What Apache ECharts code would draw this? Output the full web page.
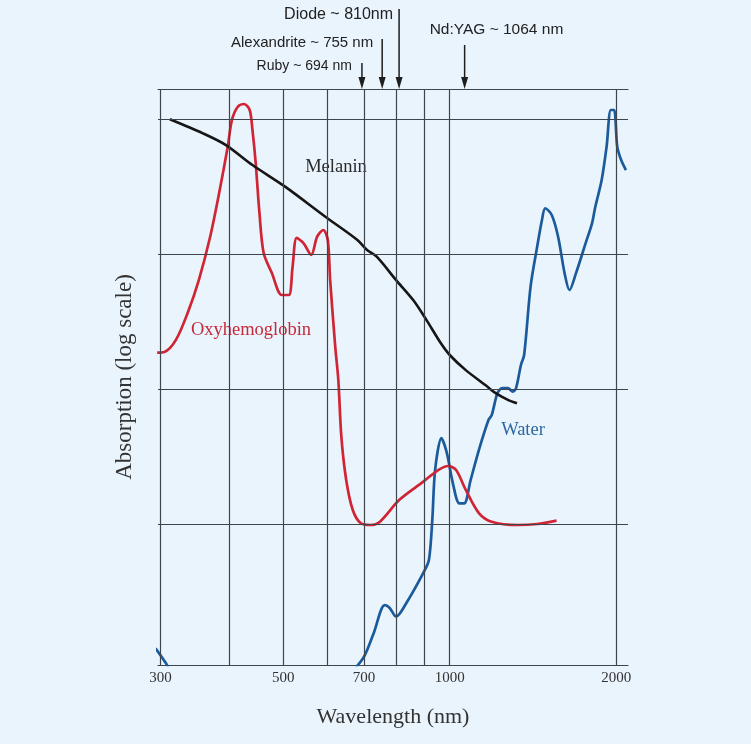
<!DOCTYPE html>
<html>
<head>
<meta charset="utf-8">
<script src="https://cdn.jsdelivr.net/npm/echarts@6/dist/echarts.min.js"></script>
<style>
html,body{margin:0;padding:0;background:#eaf4fd;}
#c{width:751px;height:744px;}
</style>
</head>
<body>
<div id="c"></div>
<script>
// ---------- data ----------
const oxyWavelength = [296,305,320,336,352,369,384,397,404,414,425,435,440,446,453,461,477,497,512,520,529,544,562,576,591,602,608,621,629,637,650,668,690,719,748,811,896,953,994,1027,1069,1129,1191,1327,1439,1560];
const oxyAbsorption = [186,188,231,366,641,1343,2980,6240,9840,12330,12910,11660,8300,4720,2014,1016,723,497,497,805,1315,1205,984,1343,1506,1270,641,206,117,44.4,21.2,12.7,10.17,9.83,10.4,15.1,20.6,25.1,26.9,25.1,17.9,12.06,10.4,9.83,10,10.6];

const melaninWavelength = [312,358,394,440,504,596,681,709,738,800,859,908,964,1000,1069,1160,1207,1274,1323];
const melaninAbsorption = [9950,7830,6410,4560,3155,1888,1270,1071,955,641,456,324,218,178.6,138,107,94,83,78.3];

const waterUvWavelength = [294,307,310];
const waterUvAbsorption = [1.20,0.929,0.86];

const waterWavelength = [673,700,729,763,779,800,835,896,917,930,941,966,988,1013,1041,1062,1091,1129,1175,1191,1220,1245,1274,1300,1318,1345,1363,1400,1439,1468,1488,1529,1570,1613,1646,1691,1760,1808,1833,1882,1921,1955,1982,2008,2041,2082];
const waterAbsorption = [0.843,1.04,1.56,2.51,2.39,2.06,2.60,4.34,5.41,10.7,25.1,43.2,33.6,20.1,14.2,14.2,21.2,35.3,58.9,64.1,93.3,101.6,101.6,95.5,101.6,150.7,178.6,573,1132,1786,2183,1944,1343,719,541,719,1199,1687,2239,3532,6237,11660,11660,6237,4966,4188];

const gridWavelengths = [300,400,500,600,700,800,900,1000,2000];
const gridAbsorption = [10,100,1000,10000];
const tickLabels = [300,500,700,1000,2000];

const laserNames = ['Ruby ~ 694 nm','Alexandrite ~ 755 nm','Diode ~ 810nm','Nd:YAG ~ 1064 nm'];
const laserWavelengths = [694,755,810,1064];

const curveLabels = ['Melanin','Oxyhemoglobin','Water'];

// ---------- chart ----------
const zip = (xs, ys) => xs.map((x, i) => [x, ys[i]]);
const X_MIN = 297, X_MAX = 2100, Y_MIN = 0.903, Y_MAX = 16680;
const GRID_COLOR = '#3f454c';

const chart = echarts.init(document.getElementById('c'));
const lineBase = {type:'line', showSymbol:false, symbol:'none', smooth:0.3, clip:true, z:3, silent:true};

chart.setOption({
  animation:false,
  backgroundColor:'#eaf4fd',
  grid:{left:158, right:123, top:89, bottom:79, containLabel:false},
  xAxis:[{
    type:'log', min:X_MIN, max:X_MAX, position:'bottom',
    axisLine:{show:true, lineStyle:{color:GRID_COLOR, width:1.2}},
    axisTick:{show:false}, axisLabel:{show:false}, splitLine:{show:false}, minorSplitLine:{show:false},
    name:'Wavelength (nm)', nameLocation:'middle', nameGap:41,
    nameTextStyle:{fontFamily:'"Liberation Serif", serif', fontSize:22, color:'#333'}
  },{
    type:'log', min:X_MIN, max:X_MAX, position:'top',
    axisLine:{show:true, lineStyle:{color:GRID_COLOR, width:1.2}},
    axisTick:{show:false}, axisLabel:{show:false}, splitLine:{show:false}
  }],
  yAxis:{
    type:'log', min:Y_MIN, max:Y_MAX,
    axisLine:{show:false}, axisTick:{show:false}, axisLabel:{show:false}, splitLine:{show:false},
    name:'Absorption (log scale)', nameLocation:'middle', nameGap:22,
    nameTextStyle:{fontFamily:'"Liberation Serif", serif', fontSize:23, color:'#333'}
  },
  series:[
    {
      type:'line', data:[], z:1, silent:true,
      markLine:{
        silent:true, symbol:['none','none'], label:{show:false}, animation:false,
        lineStyle:{color:GRID_COLOR, width:1.2, type:'solid'},
        emphasis:{disabled:true},
        data: gridWavelengths.map(v => ({xAxis:v})).concat(gridAbsorption.map(v => ({yAxis:v})))
      }
    },
    Object.assign({}, lineBase, {name:'Water UV', data:zip(waterUvWavelength, waterUvAbsorption), lineStyle:{color:'#1c5b9b', width:2.7}}),
    Object.assign({}, lineBase, {name:'Water', data:zip(waterWavelength, waterAbsorption), lineStyle:{color:'#1c5b9b', width:2.7}}),
    Object.assign({}, lineBase, {name:'Oxyhemoglobin', data:zip(oxyWavelength, oxyAbsorption), lineStyle:{color:'#cf2535', width:2.7}}),
    Object.assign({}, lineBase, {name:'Melanin', data:zip(melaninWavelength, melaninAbsorption), lineStyle:{color:'#161616', width:2.6}})
  ]
});

// ---------- annotations positioned through the axis scale ----------
const px = v => chart.convertToPixel({xAxisIndex:0}, v);
const graphics = [];
const sans = '"Liberation Sans", Arial, sans-serif';
const serif = '"Liberation Serif", serif';

tickLabels.forEach(v => {
  graphics.push({type:'text', x:px(v), y:678, silent:true,
    style:{text:String(v), fontFamily:serif, fontSize:15, fill:'#333', align:'center', verticalAlign:'middle'}});
});

// layout for laser annotations: [arrowTop, textY, fontSize, textOffset, align]
const laserLayout = [
  [63, 66, 14, -10, 'right'],
  [39, 43, 15, -9, 'right'],
  [9, 15, 16, -6, 'right'],
  [45, 30, 15.5, -35, 'left']
];
laserWavelengths.forEach((nm, i) => {
  const x = px(nm);
  const L = laserLayout[i];
  graphics.push({type:'line', silent:true, shape:{x1:x, y1:L[0], x2:x, y2:80}, style:{stroke:'#1e1e1e', lineWidth:1.5}});
  graphics.push({type:'polygon', silent:true, shape:{points:[[x-3.5,77],[x+3.5,77],[x,89]]}, style:{fill:'#1e1e1e'}});
  graphics.push({type:'text', x:x + L[3], y:L[1], silent:true,
    style:{text:laserNames[i], fontFamily:sans, fontSize:L[2], fill:'#222', align:L[4], verticalAlign:'middle'}});
});

const labelLayout = [[336,167,'#2a2a2a'],[251,330,'#c42a3a'],[523,430,'#2b68a3']];
curveLabels.forEach((t, i) => {
  graphics.push({type:'text', x:labelLayout[i][0], y:labelLayout[i][1], silent:true,
    style:{text:t, fontFamily:serif, fontSize:18.5, fill:labelLayout[i][2], align:'center', verticalAlign:'middle'}});
});

chart.setOption({graphic:graphics});
</script>
</body>
</html>
